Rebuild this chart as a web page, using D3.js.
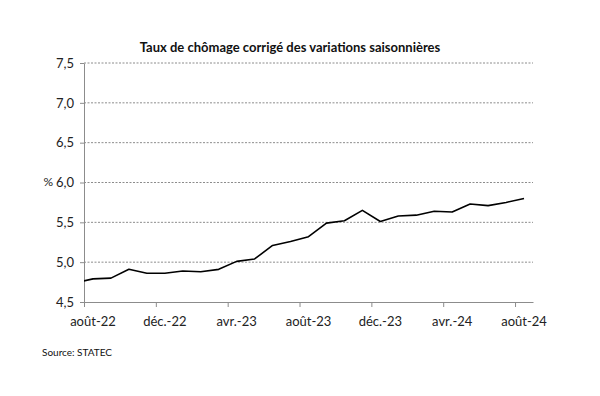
<!DOCTYPE html>
<html lang="fr">
<head>
<meta charset="utf-8">
<title>Taux de chômage</title>
<script src="https://d3js.org/d3.v7.min.js"></script>
<style>
    body { margin: 0; background: #fff; }
    svg { display: block; font-family: Lato, "Open Sans", sans-serif; }
    .grid line { stroke: #8c8c8c; stroke-dasharray: 2,1.5; }
    .axis path, .axis line { stroke: #8c8c8c; }
    .axis text { fill: #222; font-size: 13px; font-family: Lato, "Open Sans", sans-serif; }
</style>
</head>
<body>
<svg id="chart" width="600" height="396"></svg>
<script>
// months from juil.-22 (clipped by the axis, as in the original) to août-24
var months = ["juil.-22","août-22","sept.-22","oct.-22","nov.-22","déc.-22",
    "janv.-23","févr.-23","mars-23","avr.-23","mai-23","juin-23","juil.-23","août-23",
    "sept.-23","oct.-23","nov.-23","déc.-23","janv.-24","févr.-24","mars-24","avr.-24",
    "mai-24","juin-24","juil.-24","août-24"];
var rates = [4.74, 4.79, 4.80, 4.91, 4.86, 4.86, 4.89, 4.88, 4.91, 5.01, 5.04, 5.21, 5.26,
    5.32, 5.49, 5.52, 5.65, 5.51, 5.58, 5.59, 5.64, 5.63, 5.73, 5.71, 5.75, 5.80];
var tickLabels = ["août-22","déc.-22","avr.-23","août-23","déc.-23","avr.-24","août-24"];
var yTicks = [4.5, 5.0, 5.5, 6.0, 6.5, 7.0, 7.5];

var svg = d3.select("#chart");
var mLeft = 84, mRight = 533, mTop = 63, mBottom = 302;

// month slots: août-22 occupies [0,1], points drawn at the slot centre
var x = d3.scaleLinear().domain([0, 25]).range([mLeft, mRight]);
var y = d3.scaleLinear().domain([4.5, 7.5]).range([mBottom, mTop]);
var fmt = function (d) { return d3.format(".1f")(d).replace(".", ","); };

svg.append("text")
    .attr("x", 290).attr("y", 52)
    .attr("text-anchor", "middle")
    .style("font-size", "13px").style("font-weight", "bold").style("fill", "#111")
    .text("Taux de chômage corrigé des variations saisonnières");

// gridlines
svg.append("g").attr("class", "grid")
    .selectAll("line").data(yTicks.slice(1)).enter().append("line")
    .attr("x1", mLeft).attr("x2", mRight)
    .attr("y1", function (d) { return y(d); }).attr("y2", function (d) { return y(d); });

// y axis
svg.append("g").attr("class", "axis")
    .attr("transform", "translate(" + mLeft + ",0)")
    .call(d3.axisLeft(y).tickValues(yTicks).tickFormat(fmt).tickSize(4).tickSizeOuter(0).tickPadding(6));

svg.append("text")
    .attr("x", 53).attr("y", y(6.0)).attr("dy", "0.32em")
    .attr("text-anchor", "end")
    .style("font-size", "12px").style("fill", "#222")
    .text("%");

// x axis: tick marks on month boundaries, labels centred in the month
var tickIdx = tickLabels.map(function (t) { return months.indexOf(t) - 1; });
var xAxis = svg.append("g").attr("class", "axis")
    .attr("transform", "translate(0," + mBottom + ")")
    .call(d3.axisBottom(x).tickValues(tickIdx).tickSize(5).tickSizeOuter(0).tickFormat(""));
xAxis.selectAll("text.lab").data(tickIdx).enter().append("text")
    .attr("class", "lab")
    .attr("x", function (d) { return x(d + 0.5); })
    .attr("y", 24)
    .attr("text-anchor", "middle")
    .text(function (d, i) { return tickLabels[i]; });

svg.append("clipPath").attr("id", "plot")
    .append("rect").attr("x", mLeft).attr("y", mTop - 5).attr("width", mRight - mLeft).attr("height", mBottom - mTop + 10);

var line = d3.line()
    .x(function (d, i) { return x(i - 0.5); })
    .y(function (d) { return y(d); });

svg.append("path")
    .datum(rates)
    .attr("clip-path", "url(#plot)")
    .attr("fill", "none")
    .attr("stroke", "#000")
    .attr("stroke-width", 1.6)
    .attr("stroke-linejoin", "round")
    .attr("d", line);

svg.append("text")
    .attr("x", 42).attr("y", 356)
    .style("font-size", "10px").style("fill", "#111")
    .text("Source: STATEC");
</script>
</body>
</html>
